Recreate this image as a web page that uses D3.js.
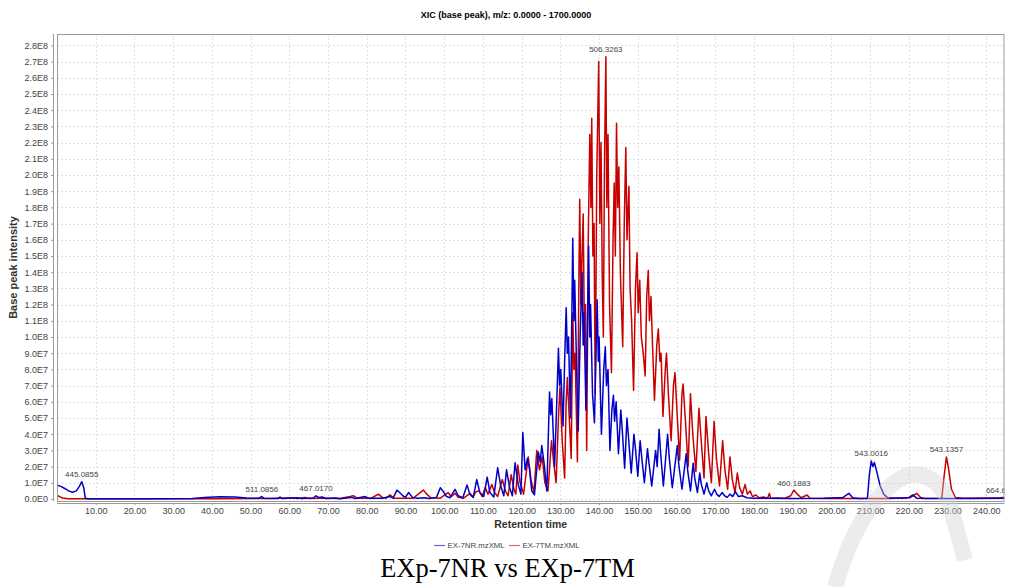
<!DOCTYPE html>
<html><head><meta charset="utf-8">
<script src="https://cdn.jsdelivr.net/npm/d3@7"></script>
<style>
html,body{margin:0;padding:0;background:#fff;}
svg{display:block;}
</style></head>
<body>
<svg id="chart" width="1010" height="587"></svg>
<script>
// ---------------- DATA ----------------
const chartTitle = "XIC (base peak), m/z: 0.0000 - 1700.0000";
const xAxisTitle = "Retention time";
const yAxisTitle = "Base peak intensity";
const caption = "EXp-7NR vs EXp-7TM";
const seriesNames = ["EX-7NR.mzXML", "EX-7TM.mzXML"];
const xTicks = [10,20,30,40,50,60,70,80,90,100,110,120,130,140,150,160,170,180,190,200,210,220,230,240];
const yTicks = [0,1e7,2e7,3e7,4e7,5e7,6e7,7e7,8e7,9e7,1e8,1.1e8,1.2e8,1.3e8,1.4e8,1.5e8,1.6e8,1.7e8,1.8e8,1.9e8,2.0e8,2.1e8,2.2e8,2.3e8,2.4e8,2.5e8,2.6e8,2.7e8,2.8e8];

// EX-7NR (blue): retention time
const nrTime = [
  0,1,2,3,4,5,5.8,6.4,6.9,7.3,
  8,15,25,35,38,42,46,49,52,52.9,
  53.5,57,57.6,58.2,62,63,66.2,66.9,67.5,68.5,
  69.5,72,73,76,77,79.6,80.5,84,86,86.8,
  87.8,88.5,89.3,90,90.8,91.8,93,95,96,98,
  99,99.8,100.6,101.5,102.8,103.6,104.8,105.9,106.6,107.5,
  108.4,109.2,110.2,111.1,111.8,112.8,113.8,114.6,115.4,116.1,
  116.9,117.6,118.3,119.1,119.8,120.3,120.9,121.5,122,122.6,
  123.3,124.3,124.8,125.2,125.8,126.5,127.2,127.5,127.8,128.5,
  129.0,129.5,129.8,130.1,130.7,131.1,131.5,131.8,132.1,132.6,
  133.0,133.2,133.5,133.7,134.2,134.6,135.1,135.6,135.9,136.1,
  136.6,137.0,137.3,137.6,137.8,138.3,138.8,139.2,139.5,139.8,
  140.0,140.6,141.2,141.6,141.9,142.3,142.8,143.3,143.7,144.0,
  144.4,145.0,145.6,146.0,146.6,147.2,147.6,148.3,149.0,149.4,
  150.0,150.6,151.0,151.7,152.5,152.9,153.6,154.6,155.0,155.5,
  155.9,156.6,157.7,158.1,158.9,160.2,160.6,161.4,162.5,162.9,
  163.6,164.3,164.7,165.4,166.0,166.4,167.1,167.8,168.3,169.0,
  169.8,170.4,171.0,171.8,172.4,173.1,173.8,174.5,175.2,176.0,
  177.0,178.2,180,183,190,198,203,204.5,205.5,207,
  209.3,209.8,210.3,210.7,211.1,211.8,212.6,213.5,214.5,218,
  220,221,222,228,235,244.7];
// EX-7NR (blue): intensity, x1e7
const nrIntensity = [
  0.85,0.78,0.65,0.5,0.42,0.5,0.8,1.07,0.7,0.05,
  0.02,0.02,0.02,0.03,0.1,0.14,0.12,0.06,0.05,0.15,
  0.04,0.03,0.12,0.03,0.08,0.03,0.06,0.2,0.1,0.12,
  0.03,0.06,0.02,0.1,0.03,0.15,0.05,0.05,0.15,0.05,
  0.55,0.4,0.2,0.1,0.4,0.1,0.05,0.08,0.03,0.1,
  0.7,0.45,0.15,0.08,0.6,0.2,0.08,0.87,0.3,0.1,
  1.2,0.4,0.15,1.35,0.4,0.12,1.93,0.8,0.2,1.8,
  0.7,0.2,2.24,0.9,0.3,4.1,1.8,2.5,1.9,0.5,
  0.25,2.9,2.3,3.3,2.2,0.5,6.6,5.2,6.2,2.0,
  5.5,9.3,7.0,8.0,4.5,8.5,11.8,9.0,10.0,5.0,
  12.0,16.1,11.0,13.5,8.0,4.2,10.0,14.0,9.5,11.5,
  5.5,10.5,15.6,10.0,12.0,6.5,4.7,9.0,12.3,8.5,
  10.0,4.0,8.0,9.4,7.0,8.0,3.0,5.5,6.4,4.8,
  6.0,2.8,5.5,4.2,1.9,5.0,3.8,1.6,4.0,3.1,
  1.4,3.6,2.6,1.0,3.1,2.2,0.8,3.0,2.0,4.3,
  2.8,0.8,4.0,2.6,0.7,3.3,2.1,0.6,2.8,1.7,
  0.5,2.2,1.3,0.4,1.6,0.9,0.3,1.0,0.5,0.2,
  0.6,0.3,0.15,0.4,0.2,0.1,0.3,0.15,0.45,0.15,
  0.2,0.08,0.05,0.05,0.03,0.05,0.1,0.35,0.08,0.03,
  0.05,1.5,2.35,2.0,2.25,1.6,0.8,0.3,0.08,0.04,
  0.08,0.25,0.05,0.03,0.03,0.04];

// EX-7TM (red): retention time
const tmTime = [
  0,0.6,1.5,3,20,40,55,61,62,64,
  65,67,70,73,75.7,76.5,77.5,80,81,83,
  84,85,86,87,92,94.6,95.5,96.5,99,101,
  101.8,102.8,103.6,105,106.7,107.4,108.2,109,109.8,110.6,
  111.3,112.3,113,113.8,115,115.8,116.5,117.3,118,118.5,
  119.0,119.6,120.5,121.7,122.4,123.2,123.9,124.6,125.3,126,
  126.8,127.7,128.3,128.9,129.5,129.9,130.5,131.1,131.5,131.8,
  132.4,132.8,133.2,133.5,133.8,134.4,134.8,135.0,135.3,135.6,
  135.9,136.2,136.5,136.8,137.2,137.6,137.9,138.1,138.4,138.7,
  139.0,139.4,139.9,140.2,140.5,140.8,141.1,141.4,141.75,142.0,
  142.3,142.7,143.2,143.6,143.9,144.2,144.5,144.8,145.1,145.5,
  146.1,146.5,146.9,147.2,147.7,148.0,148.4,148.9,149.4,149.8,
  150.1,150.5,150.9,151.4,151.9,152.3,152.7,153.0,153.4,153.8,
  154.3,154.9,155.3,155.7,156.0,156.5,157.1,157.4,157.9,158.6,
  159.2,159.6,160.1,160.8,161.4,161.7,162.3,163.0,163.6,164.2,
  165.0,165.8,166.4,167.1,167.6,168.3,169.0,169.7,170.3,171.1,
  171.9,172.5,173.2,173.8,174.4,175.1,175.7,176.3,177.0,177.7,
  178.3,179,179.6,180.5,181.3,182.5,183.5,184.0,184.3,186,
  188,189.5,190.3,191.2,192.2,193.7,194.5,198,205,215,
  220.5,222,223,224,228.5,229.0,229.7,230.3,231,232,
  234,240,243.5,244.2,244.7];
// EX-7TM (red): intensity, x1e7
const tmIntensity = [
  0.25,0.15,0.06,0.02,0.01,0.02,0.03,0.08,0.03,0.1,
  0.03,0.05,0.04,0.03,0.15,0.2,0.05,0.06,0.03,0.3,
  0.1,0.05,0.25,0.05,0.05,0.55,0.3,0.08,0.05,0.4,
  0.15,0.35,0.1,0.05,0.35,0.12,0.45,0.5,0.15,0.7,
  0.3,0.9,0.4,0.15,1.2,0.5,0.2,1.5,0.6,0.3,
  2.1,1.0,0.3,2.6,1.2,0.4,3.0,1.8,2.6,1.0,
  0.5,3.6,2.2,1.0,5.0,6.9,3.5,1.3,6.0,7.5,
  4.5,2.5,11.5,8.0,9.0,2.3,14.0,18.5,12.0,15.0,
  17.6,10.0,12.0,3.0,16.0,22.5,18.0,23.5,15.0,17.0,
  6.5,20.0,27.0,17.0,22.0,14.0,10.0,21.0,27.3,18.0,
  22.5,12.0,7.8,16.0,19.5,15.0,23.2,18.0,20.5,14.0,
  9.4,17.0,21.7,16.0,19.3,13.0,11.0,6.7,13.0,15.2,
  11.5,13.5,10.0,9.0,7.6,12.5,14.1,11.0,12.5,9.5,
  6.1,9.5,10.5,8.5,9.0,5.1,8.0,9.0,6.5,3.6,
  7.0,7.8,5.5,2.4,6.5,7.1,4.8,2.0,6.5,4.0,
  1.7,5.6,3.5,1.3,5.1,2.8,1.0,4.8,2.5,0.8,
  3.6,1.8,0.6,2.6,1.2,0.4,1.6,0.7,0.3,0.9,
  0.3,0.5,0.15,0.25,0.08,0.12,0.05,0.35,0.05,0.06,
  0.05,0.2,0.55,0.3,0.08,0.25,0.05,0.03,0.03,0.03,
  0.1,0.35,0.1,0.03,0.05,1.2,2.6,1.8,0.6,0.1,
  0.04,0.06,0.06,0.1,0.08];

// Peak annotations: label, series index, retention time, intensity (x1e7)
const peakLabels = ["445.0855","511.0856","467.0170","506.3263","460.1883","543.0016","543.1357","664.6042"];
const peakSeries = [0,0,0,1,1,0,1,1];
const peakTime = [6.4,52.9,66.9,141.75,190.3,210.3,229.7,244.2];
const peakIntensity = [1.07,0.15,0.2,27.3,0.55,2.35,2.6,0.1];

const seriesColors = ["#0000c8","#c80000"];

// ---------------- LAYOUT ----------------
const svg = d3.select("#chart");
const plotL = 57, plotR = 1004.5, plotT = 34, plotB = 501;
const x = d3.scaleLinear().domain([0, 244.7]).range([plotL, plotR]);
const y = d3.scaleLinear().domain([0, 2.8e8]).range([499, 45.4]);

svg.append("rect").attr("x",0).attr("y",0).attr("width",1010).attr("height",587).attr("fill","#fff");

svg.append("text").attr("x",506).attr("y",18).attr("text-anchor","middle")
  .attr("font-family","Liberation Sans, Arial, sans-serif").attr("font-size",9).attr("font-weight","bold")
  .attr("fill","#000").text(chartTitle);

svg.append("clipPath").attr("id","plotclip").append("rect")
  .attr("x",plotL).attr("y",plotT).attr("width",plotR-plotL).attr("height",plotB-plotT);

const grid = svg.append("g");
grid.selectAll("line.h").data(yTicks).enter().append("line")
  .attr("x1",plotL).attr("x2",plotR).attr("y1",d=>Math.round(y(d))+0.5).attr("y2",d=>Math.round(y(d))+0.5)
  .attr("stroke","#d8d8d8").attr("stroke-width",0.8).attr("stroke-dasharray","2,2");
grid.selectAll("line.v").data(xTicks).enter().append("line")
  .attr("x1",d=>Math.round(x(d))+0.5).attr("x2",d=>Math.round(x(d))+0.5).attr("y1",plotT).attr("y2",plotB)
  .attr("stroke","#d8d8d8").attr("stroke-width",0.8).attr("stroke-dasharray","2,2");

const nrData = nrTime.map((t,i)=>[t, nrIntensity[i]*1e7]);
const tmData = tmTime.map((t,i)=>[t, tmIntensity[i]*1e7]);
const line = d3.line().x(d=>x(d[0])).y(d=>y(d[1]));
const gData = svg.append("g").attr("clip-path","url(#plotclip)");
gData.append("path").datum(tmData).attr("d",line).attr("fill","none")
  .attr("stroke",seriesColors[1]).attr("stroke-width",1.5).attr("stroke-linejoin","round");
gData.append("path").datum(nrData).attr("d",line).attr("fill","none")
  .attr("stroke",seriesColors[0]).attr("stroke-width",1.5).attr("stroke-linejoin","round");

gData.selectAll("text.pk").data(peakLabels).enter().append("text")
  .attr("x",(d,i)=>x(peakTime[i])).attr("y",(d,i)=>y(peakIntensity[i]*1e7)-4.5)
  .attr("text-anchor","middle").attr("font-family","Liberation Sans, Arial, sans-serif")
  .attr("font-size",8).attr("fill","#444").text(d=>d);

svg.append("rect").attr("x",plotL+0.5).attr("y",plotT+0.5).attr("width",plotR-plotL-1).attr("height",plotB-plotT)
  .attr("fill","none").attr("stroke","#9a9a9a").attr("stroke-width",1);

const fmtY = d => {
  if (d===0) return "0.0E0";
  const e = Math.floor(Math.log10(d)+1e-9);
  return (d/Math.pow(10,e)).toFixed(1)+"E"+e;
};
const yAxis = svg.append("g").attr("transform","translate(53,0)")
  .call(d3.axisLeft(y).tickValues(yTicks).tickFormat(fmtY).tickSize(2).tickPadding(3).tickSizeOuter(0));
yAxis.select(".domain").attr("stroke","#9a9a9a").attr("d",`M0.5,${plotT}V${plotB}`);
yAxis.selectAll(".tick line").attr("stroke","#9a9a9a");
yAxis.selectAll(".tick text").attr("font-family","Liberation Sans, Arial, sans-serif").attr("font-size",9).attr("fill","#444");

const xAxis = svg.append("g").attr("transform","translate(0,503)")
  .call(d3.axisBottom(x).tickValues(xTicks).tickFormat(d=>d.toFixed(2)).tickSize(2).tickPadding(3).tickSizeOuter(0));
xAxis.select(".domain").attr("stroke","#9a9a9a").attr("d",`M${plotL},0.5H${plotR}`);
xAxis.selectAll(".tick line").attr("stroke","#9a9a9a");
xAxis.selectAll(".tick text").attr("font-family","Liberation Sans, Arial, sans-serif").attr("font-size",9).attr("fill","#444");

svg.append("text").attr("x",(plotL+plotR)/2).attr("y",528).attr("text-anchor","middle")
  .attr("font-family","Liberation Sans, Arial, sans-serif").attr("font-size",10.5).attr("font-weight","bold")
  .attr("fill","#333").text(xAxisTitle);
svg.append("text").attr("transform",`translate(17,${(plotT+plotB)/2}) rotate(-90)`).attr("text-anchor","middle")
  .attr("font-family","Liberation Sans, Arial, sans-serif").attr("font-size",11).attr("font-weight","bold")
  .attr("fill","#333").text(yAxisTitle);

const legX = [434, 509];
const leg = svg.append("g");
seriesNames.forEach((n,i)=>{
  leg.append("line").attr("x1",legX[i]).attr("x2",legX[i]+11).attr("y1",545.5).attr("y2",545.5)
    .attr("stroke",seriesColors[i]).attr("stroke-opacity",0.6).attr("stroke-width",1.2);
  leg.append("text").attr("x",legX[i]+13.5).attr("y",548.3)
    .attr("font-family","Liberation Sans, Arial, sans-serif").attr("font-size",7.8).attr("fill","#444").text(n);
});

svg.append("text").attr("x",507.5).attr("y",577).attr("text-anchor","middle")
  .attr("font-family","Liberation Serif, Times New Roman, serif").attr("font-size",26.5).attr("fill","#000").text(caption);

// faint watermark
svg.append("path").attr("d","M835,587 Q860,500 905,476 Q935,468 950,505 L965,560")
  .attr("fill","none").attr("stroke","#d0d0d0").attr("stroke-opacity",0.4).attr("stroke-width",16);
</script>
</body></html>
